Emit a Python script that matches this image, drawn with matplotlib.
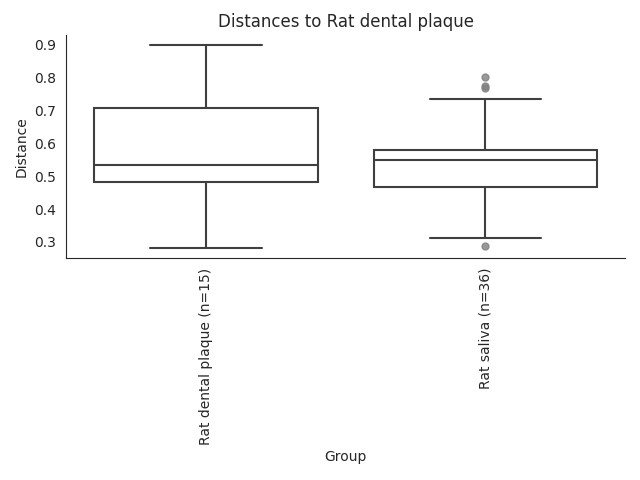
import matplotlib
matplotlib.use("Agg")
import matplotlib.pyplot as plt
import seaborn as sns

# valores
grupos = ["Rat dental plaque (n=15)", "Rat saliva (n=36)"]
bigote_inf = [0.282, 0.313]
q1 = [0.482, 0.4685]
mediana = [0.5355, 0.550]
q3 = [0.707, 0.580]
bigote_sup = [0.899, 0.736]
atipicos = [[], [0.802, 0.776, 0.768, 0.288]]

sns.set_style("white")

stats = []
for i, g in enumerate(grupos):
    stats.append({
        "label": g,
        "whislo": bigote_inf[i],
        "q1": q1[i],
        "med": mediana[i],
        "q3": q3[i],
        "whishi": bigote_sup[i],
        "fliers": atipicos[i],
    })

color_linea = "#3f3f3f"
fig, ax = plt.subplots(figsize=(6.4, 4.8), dpi=100)
ax.bxp(stats, positions=[0, 1], widths=0.8, patch_artist=True,
       boxprops=dict(facecolor="white", edgecolor=color_linea, linewidth=1.5),
       medianprops=dict(color=color_linea, linewidth=1.5),
       whiskerprops=dict(color=color_linea, linewidth=1.5),
       capprops=dict(color=color_linea, linewidth=1.5),
       flierprops=dict(marker="o", markersize=5, markerfacecolor="gray",
                       markeredgecolor="gray", alpha=0.8, linestyle="none"))
ax.set_xlim(-0.5, 1.5)
ax.set_xticks([0, 1])
ax.set_xticklabels(grupos, rotation=90)
ax.set_xlabel("Group")
ax.set_ylabel("Distance")
ax.set_title("Distances to Rat dental plaque")
sns.despine(ax=ax)
fig.subplots_adjust(left=0.103, right=0.977, top=0.927, bottom=0.4625)
plt.savefig("out.png")
